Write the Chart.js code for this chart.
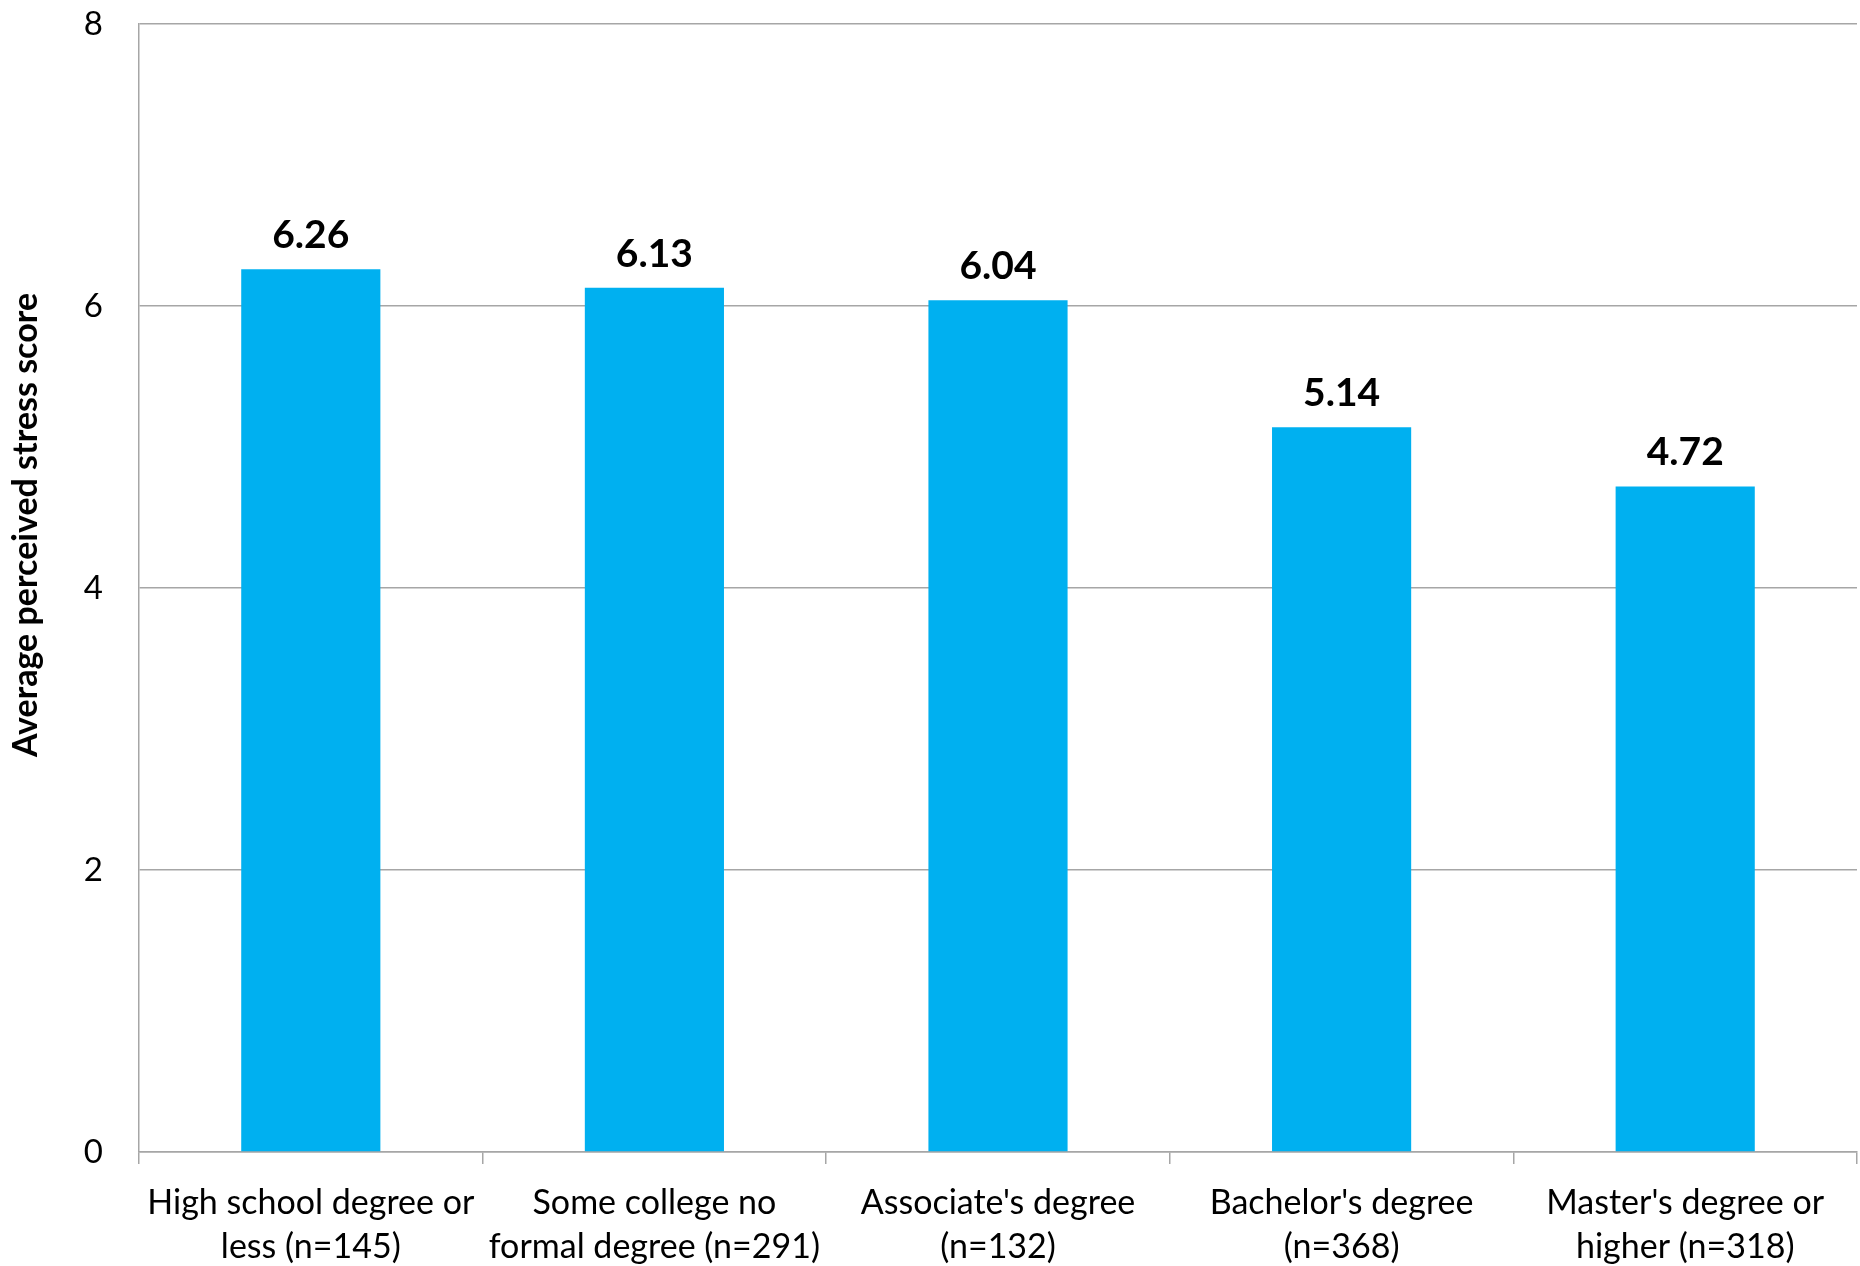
<!DOCTYPE html>
<html>
<head>
<meta charset="utf-8">
<script src="https://cdn.jsdelivr.net/npm/chart.js@4"></script>
<style>
  html, body { margin: 0; padding: 0; background: #fff; }
  #wrap { width: 1860px; height: 1266px; }
</style>
</head>
<body>
<div id="wrap"><canvas id="chart"></canvas></div>
<script>
// categories and values
const categories = [
  ["High school degree or", "less (n=145)"],
  ["Some college no", "formal degree (n=291)"],
  ["Associate's degree", "(n=132)"],
  ["Bachelor's degree", "(n=368)"],
  ["Master's degree or", "higher (n=318)"]
];
const stressScores = [6.26, 6.13, 6.04, 5.14, 4.72];
const yTicks = [0, 2, 4, 6, 8];
const yTitle = "Average perceived stress score";

const FONT = "Lato, 'Open Sans', sans-serif";
const GRID = "#a6a6a6";

// draws the bold value above each bar, plus the y axis title
const valueLabels = {
  id: "valueLabels",
  afterDatasetsDraw(chart) {
    const ctx = chart.ctx;
    const meta = chart.getDatasetMeta(0);
    ctx.save();
    ctx.font = "bold 39px " + FONT;
    ctx.fillStyle = "#000";
    ctx.textAlign = "center";
    ctx.textBaseline = "alphabetic";
    meta.data.forEach((bar, i) => {
      ctx.fillText(stressScores[i].toFixed(2), bar.x, bar.y - 21);
    });

    // axis title sits a bit above the middle of the plot, like the original
    const area = chart.chartArea;
    ctx.translate(26, (area.top + area.bottom) / 2 - 63);
    ctx.rotate(-Math.PI / 2);
    ctx.font = "bold 34px " + FONT;
    ctx.textBaseline = "middle";
    ctx.fillText(yTitle, 0, 0);
    ctx.restore();
  }
};

new Chart(document.getElementById("chart"), {
  type: "bar",
  data: {
    labels: categories,
    datasets: [{
      data: stressScores,
      backgroundColor: "#00b0f0",
      borderWidth: 0,
      categoryPercentage: 1,
      barPercentage: 0.405
    }]
  },
  options: {
    responsive: true,
    maintainAspectRatio: false,
    animation: false,
    layout: { padding: { top: 24, right: 3, left: 0, bottom: 0 } },
    plugins: {
      legend: { display: false },
      tooltip: { enabled: false }
    },
    scales: {
      x: {
        grid: {
          offset: true,
          drawOnChartArea: false,
          drawTicks: true,
          tickLength: 12,
          color: GRID,
          lineWidth: 1.5
        },
        border: { color: GRID, width: 1.5 },
        ticks: {
          color: "#000",
          font: { family: FONT, size: 34, lineHeight: 1.3 },
          padding: 17,
          maxRotation: 0,
          autoSkip: false
        },
        afterFit: (scale) => { scale.height = 114; }
      },
      y: {
        min: 0,
        max: 8,
        afterBuildTicks: (scale) => { scale.ticks = yTicks.map(v => ({ value: v })); },
        grid: { color: GRID, lineWidth: 1.5, drawTicks: false },
        border: { color: GRID, width: 1.5 },
        ticks: {
          color: "#000",
          font: { family: FONT, size: 33 },
          padding: 36
        },
        afterFit: (scale) => {
          scale.width = 139;
          scale.paddingTop = 0;
          scale.paddingBottom = 0;
        }
      }
    }
  },
  plugins: [valueLabels]
});
</script>
</body>
</html>
